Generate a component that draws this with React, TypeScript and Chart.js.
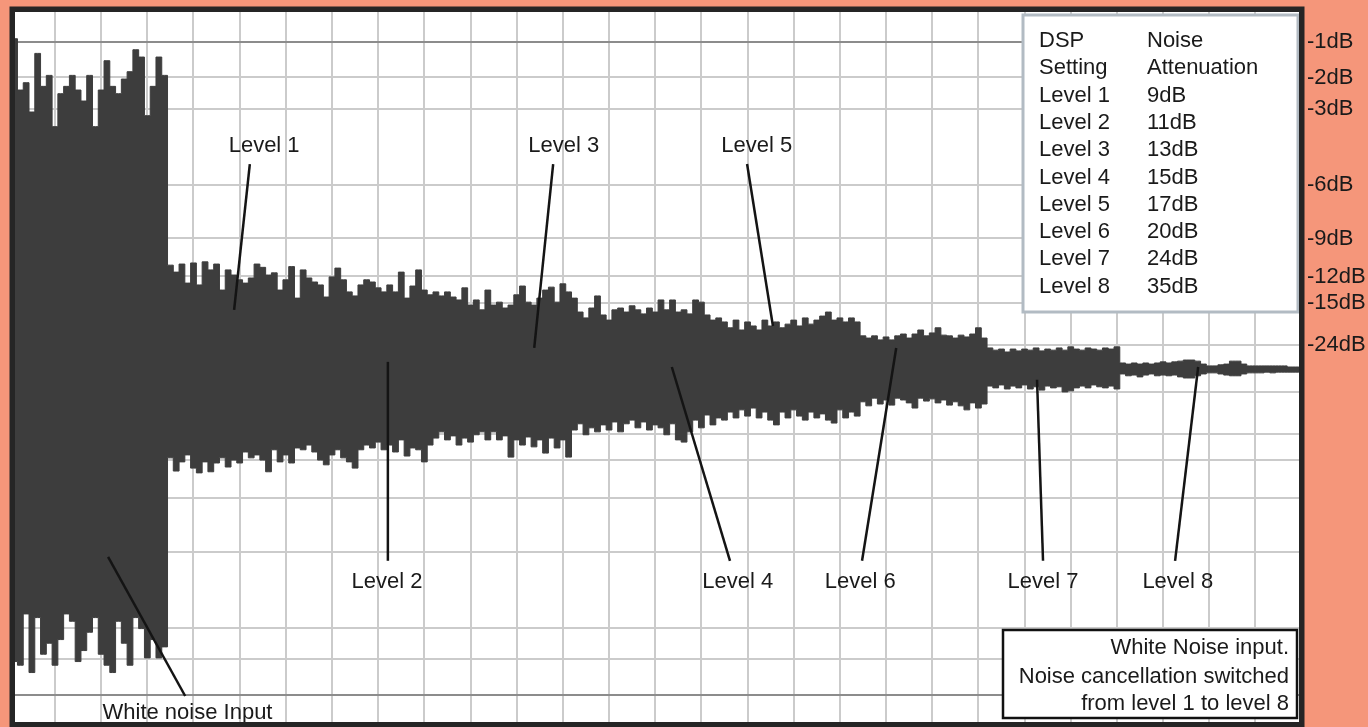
import React, { useEffect, useRef } from 'react';
import { Chart, registerables } from 'chart.js';

Chart.register(...registerables);

// ---- Waveform envelope (percent of full scale), sampled every 1/8 grid unit ----
const SAMPLE_START = -0.875;
const SAMPLE_STEP = 0.125;

const UPPER_ENVELOPE = [
  // white noise input
  90, 76, 78, 70, 86, 77, 80, 66, 75, 77, 80, 76, 73, 80, 66, 76, 84, 77, 75, 79, 81, 87, 85, 69, 77, 85, 80,
  // levels 1 - 5
  28.2, 26.3, 28.5, 23.3, 28.8, 22.8, 29.1, 26.9, 28.5, 21.4,
  26.9, 25.5, 24.2, 23.3, 24.7, 28.5, 27.6, 25.5, 26.1, 21.4,
  24.2, 27.8, 19.2, 26.9, 24.7, 23.6, 22.8, 19.5, 25.0, 27.4,
  24.2, 20.9, 19.8, 22.8, 24.2, 23.6, 22.0, 20.9, 22.8, 20.9,
  26.3, 19.2, 22.5, 26.9, 21.4, 20.1, 20.9, 19.8, 20.9, 19.5,
  18.7, 22.0, 17.3, 18.7, 16.0, 21.4, 17.3, 18.1, 16.5, 17.3,
  20.1, 22.5, 18.1, 17.3, 19.2, 21.4, 22.2, 18.1, 23.1, 20.9,
  19.2, 15.4, 13.8, 16.5, 19.8, 14.6, 13.2, 16.0, 16.5, 15.4,
  17.1, 16.0, 14.9, 16.5, 15.4, 18.7, 16.0, 18.7, 15.4, 16.0,
  14.9, 18.7, 18.1, 14.6, 13.2, 13.8, 12.7, 11.1, 13.2, 10.5,
  12.7, 11.6, 10.5, 13.2, 11.6, 12.7, 11.1, 12.1, 13.2, 11.6,
  13.8, 12.1, 13.2, 14.3, 15.4, 13.2, 13.8, 12.7, 13.8, 12.7,
  // level 6
  8.9, 8.3, 8.9, 7.8, 8.6, 7.8, 8.9, 9.4, 8.3, 9.4,
  10.5, 8.9, 9.7, 11.1, 9.1, 8.9, 8.3, 9.1, 8.6, 9.4, 11.1, 8.3,
  // level 7
  5.6, 5.0, 5.3, 4.5, 5.3, 4.8, 5.3, 5.0, 5.6, 4.8,
  5.3, 5.0, 5.6, 5.0, 5.9, 5.3, 5.0, 5.6, 5.3, 5.0, 5.6, 5.3, 5.9,
  // level 8
  1.5, 1.2, 1.5, 1.2, 1.5, 1.2, 1.5, 1.8, 1.5, 1.8,
  2.0, 2.3, 2.3, 2.0, 1.2, 0.7, 0.7, 1.0, 1.2, 2.0,
  2.0, 1.2, 0.7, 0.7, 0.7, 0.7, 0.7, 0.7, 0.7, 0.4, 0.4, 0.4,
];

const LOWER_ENVELOPE = [
  // white noise input
  -80, -81, -67, -83, -68, -78, -75, -81, -74, -67, -69, -80, -77, -72, -68, -78, -81, -83, -69, -75, -81, -68, -71, -79, -74, -79, -76,
  // levels 1 - 5
  -24.4, -28.0, -25.5, -23.6, -27.2, -28.5, -25.5, -28.2, -25.8, -24.4,
  -26.9, -25.0, -25.8, -22.8, -24.4, -23.6, -25.0, -28.2, -22.2, -25.5,
  -23.6, -25.8, -21.7, -22.2, -20.9, -22.8, -25.0, -26.3, -23.6, -22.2,
  -24.4, -25.5, -27.2, -22.2, -20.9, -21.7, -20.1, -22.2, -20.9, -22.8,
  -19.5, -23.9, -21.7, -22.2, -25.5, -20.9, -19.0, -17.3, -19.5, -18.4,
  -20.9, -19.0, -20.1, -18.1, -17.3, -19.5, -17.3, -19.5, -18.4, -24.2,
  -19.5, -20.9, -18.7, -21.4, -19.5, -23.1, -19.0, -21.7, -19.5, -24.2,
  -16.8, -15.1, -18.1, -16.2, -17.3, -15.4, -16.8, -14.6, -17.3, -15.1,
  -14.1, -16.2, -14.6, -16.8, -15.4, -16.2, -18.1, -15.1, -19.5, -20.1,
  -17.3, -14.1, -16.2, -12.7, -15.4, -13.5, -14.1, -11.9, -13.5, -11.3,
  -13.0, -10.8, -13.5, -11.9, -14.1, -15.4, -11.9, -13.5, -11.3, -13.0,
  -14.1, -11.9, -13.5, -12.4, -14.1, -14.9, -11.3, -13.5, -11.9, -13.0,
  // level 6
  -9.1, -10.2, -8.1, -9.7, -8.6, -10.0, -8.1, -8.6, -9.4, -10.8,
  -8.1, -8.9, -8.3, -9.4, -8.6, -10.0, -9.1, -10.2, -11.3, -9.4, -10.8, -9.7,
  // level 7
  -4.8, -5.3, -4.5, -5.6, -4.8, -5.3, -4.5, -5.6, -5.0, -5.9,
  -4.8, -5.3, -5.0, -6.4, -6.1, -5.3, -4.8, -5.3, -4.5, -5.0, -5.3, -4.8, -5.6,
  // level 8
  -1.5, -2.0, -1.8, -2.3, -1.8, -1.5, -2.0, -1.8, -2.0, -1.8,
  -2.3, -2.6, -2.6, -2.0, -1.5, -1.2, -1.2, -1.5, -1.8, -2.0,
  -2.0, -1.5, -1.2, -1.2, -1.2, -1.0, -1.2, -1.0, -1.0, -1.0, -1.0, -1.0,
];

// ---- Axes ----
const X_MIN = -0.866;
const X_MAX = 26.944;
const X_GRID = [0, 1, 2, 3, 4, 5, 6, 7, 8, 9, 10, 11, 12, 13, 14, 15, 16, 17, 18, 19, 20, 21, 22, 23, 24, 25, 26];
const Y_MIN = -96.5;
const Y_MAX = 97.3;
const DB_TICKS = [1, 2, 3, 6, 9, 12, 15, 24];

// ---- Table ----
const TABLE_HEAD_1 = ['DSP', 'Setting'];
const TABLE_HEAD_2 = ['Noise', 'Attenuation'];
const DSP_SETTINGS = ['Level 1', 'Level 2', 'Level 3', 'Level 4', 'Level 5', 'Level 6', 'Level 7', 'Level 8'];
const ATTENUATION = ['9dB', '11dB', '13dB', '15dB', '17dB', '20dB', '24dB', '35dB'];
const NOTE_LINES = ['White Noise input.', 'Noise cancellation switched', 'from level 1 to level 8'];

// ---- Annotations (data units) ----
const ANNOT_TEXT = ['Level 1', 'Level 2', 'Level 3', 'Level 4', 'Level 5', 'Level 6', 'Level 7', 'Level 8', 'White noise Input'];
const ANNOT_X = [4.53, 7.19, 11.02, 14.79, 15.2, 17.44, 21.4, 24.32, 2.87];
const ANNOT_Y = [60.7, -58.3, 60.7, -58.3, 60.7, -58.3, -58.3, -58.3, -93.9];
const LEADER_X0 = [4.22, 7.21, 10.79, 13.36, 14.99, 18.22, 21.27, 24.76, 1.15];
const LEADER_Y0 = [55.8, 1.8, 55.8, 0.4, 55.8, 5.6, -3.1, 0.4, -51.4];
const LEADER_X1 = [3.88, 7.21, 10.38, 14.62, 15.55, 17.48, 21.4, 24.26, 2.82];
const LEADER_Y1 = [16.0, -52.5, 5.6, -52.5, 11.6, -52.5, -52.5, -52.5, -89.4];

const FONT_FAMILY = "'Liberation Sans', Arial, Helvetica, sans-serif";
const WAVE_COLOR = '#3d3d3d';
const TEXT_COLOR = '#1a1a1a';

const dbToPercent = (db: number) => 100 * Math.pow(10, -db / 20);
const Y_TICK_VALUES = [...DB_TICKS.map(dbToPercent), ...DB_TICKS.map((d) => -dbToPercent(d))];

const decorPlugin = {
  id: 'decor',
  beforeDraw(chart: any) {
    const { ctx, chartArea: a } = chart;
    ctx.save();
    ctx.fillStyle = '#ffffff';
    ctx.fillRect(a.left, a.top, a.right - a.left, a.bottom - a.top);
    ctx.restore();
  },
  afterDatasetsDraw(chart: any) {
    const { ctx, chartArea: a } = chart;
    const xs = chart.scales.x;
    const ys = chart.scales.y;
    ctx.save();
    // leader lines
    ctx.strokeStyle = '#141414';
    ctx.lineWidth = 2.5;
    ctx.lineCap = 'butt';
    for (let i = 0; i < ANNOT_TEXT.length; i++) {
      ctx.beginPath();
      ctx.moveTo(xs.getPixelForValue(LEADER_X0[i]), ys.getPixelForValue(LEADER_Y0[i]));
      ctx.lineTo(xs.getPixelForValue(LEADER_X1[i]), ys.getPixelForValue(LEADER_Y1[i]));
      ctx.stroke();
    }
    // labels
    ctx.fillStyle = TEXT_COLOR;
    ctx.font = `22px ${FONT_FAMILY}`;
    ctx.textAlign = 'center';
    ctx.textBaseline = 'middle';
    for (let i = 0; i < ANNOT_TEXT.length; i++) {
      ctx.fillText(ANNOT_TEXT[i], xs.getPixelForValue(ANNOT_X[i]), ys.getPixelForValue(ANNOT_Y[i]));
    }

    // settings table
    const tw = 275;
    const th = 297;
    const tl = a.right - 276;
    const tt = a.top + 3;
    ctx.fillStyle = '#ffffff';
    ctx.fillRect(tl, tt, tw, th);
    ctx.strokeStyle = '#b2bbc3';
    ctx.lineWidth = 3;
    ctx.strokeRect(tl, tt, tw, th);
    ctx.fillStyle = TEXT_COLOR;
    ctx.textAlign = 'left';
    const rowH = 27.3;
    const col1 = tl + 16;
    const col2 = tl + 124;
    const row0 = tt + 26;
    const c1 = [...TABLE_HEAD_1, ...DSP_SETTINGS];
    const c2 = [...TABLE_HEAD_2, ...ATTENUATION];
    for (let r = 0; r < c1.length; r++) {
      ctx.fillText(c1[r], col1, row0 + r * rowH);
      ctx.fillText(c2[r], col2, row0 + r * rowH);
    }

    // note box
    const nw = 294;
    const nh = 88;
    const nl = a.right - 296;
    const nt = a.bottom - 92;
    ctx.fillStyle = '#ffffff';
    ctx.fillRect(nl, nt, nw, nh);
    ctx.strokeStyle = '#111111';
    ctx.lineWidth = 2.5;
    ctx.strokeRect(nl, nt, nw, nh);
    ctx.fillStyle = TEXT_COLOR;
    ctx.textAlign = 'right';
    const noteY = [18, 47, 74];
    for (let i = 0; i < NOTE_LINES.length; i++) {
      ctx.fillText(NOTE_LINES[i], nl + nw - 8, nt + noteY[i]);
    }
    ctx.restore();
  },
  afterDraw(chart: any) {
    const { ctx, chartArea: a } = chart;
    ctx.save();
    ctx.strokeStyle = '#252525';
    ctx.lineWidth = 5.5;
    ctx.strokeRect(a.left - 2.75, a.top - 2.75, a.right - a.left + 5.5, a.bottom - a.top + 5.5);
    ctx.restore();
  },
};

export default function App() {
  const canvasRef = useRef<HTMLCanvasElement | null>(null);

  useEffect(() => {
    document.body.style.margin = '0';
    document.body.style.overflow = 'hidden';
    const canvas = canvasRef.current;
    if (!canvas) return;

    const upper = UPPER_ENVELOPE.map((v, i) => ({ x: SAMPLE_START + i * SAMPLE_STEP, y: v }));
    const lower = LOWER_ENVELOPE.map((v, i) => ({ x: SAMPLE_START + i * SAMPLE_STEP, y: v }));

    const chart = new Chart(canvas, {
      type: 'line',
      data: {
        datasets: [
          {
            label: 'upper',
            data: upper,
            stepped: 'middle',
            fill: '+1',
            backgroundColor: WAVE_COLOR,
            borderColor: WAVE_COLOR,
            borderWidth: 1,
            pointRadius: 0,
          },
          {
            label: 'lower',
            data: lower,
            stepped: 'middle',
            fill: false,
            backgroundColor: WAVE_COLOR,
            borderColor: WAVE_COLOR,
            borderWidth: 1,
            pointRadius: 0,
          },
        ],
      },
      options: {
        animation: false,
        responsive: false,
        parsing: false,
        layout: { padding: { left: 15, top: 12, right: 0, bottom: 5 } },
        plugins: {
          legend: { display: false },
          tooltip: { enabled: false },
          title: { display: false },
          filler: { propagate: false },
        },
        scales: {
          x: {
            type: 'linear',
            min: X_MIN,
            max: X_MAX,
            position: 'bottom',
            afterBuildTicks: (scale: any) => {
              scale.ticks = X_GRID.map((v) => ({ value: v }));
            },
            afterFit: (scale: any) => {
              scale.height = 0;
              scale.paddingLeft = 0;
              scale.paddingRight = 0;
            },
            ticks: { display: false },
            border: { display: false },
            grid: { color: '#cbcbcb', lineWidth: 2, drawTicks: false },
          },
          y: {
            type: 'linear',
            min: Y_MIN,
            max: Y_MAX,
            position: 'right',
            afterBuildTicks: (scale: any) => {
              scale.ticks = Y_TICK_VALUES.map((v) => ({ value: v }));
            },
            afterFit: (scale: any) => {
              scale.width = 69;
              scale.paddingTop = 0;
              scale.paddingBottom = 0;
            },
            ticks: {
              autoSkip: false,
              padding: 8,
              color: TEXT_COLOR,
              font: { family: FONT_FAMILY, size: 22 },
              callback: (value: any) => {
                const v = Number(value);
                if (v <= 0) return '';
                const idx = DB_TICKS.findIndex((d) => Math.abs(dbToPercent(d) - v) < 1e-6);
                return idx >= 0 ? `-${DB_TICKS[idx]}dB` : '';
              },
            },
            border: { display: false },
            grid: {
              drawTicks: false,
              lineWidth: 2,
              color: (ctx: any) => (ctx.tick && Math.abs(ctx.tick.value) > 85 ? '#8c8c8c' : '#cbcbcb'),
            },
          },
        },
      },
      plugins: [decorPlugin],
    } as any);

    return () => {
      chart.destroy();
    };
  }, []);

  return (
    <div style={{ width: 1368, height: 727, background: '#F5967A', overflow: 'hidden' }}>
      <canvas ref={canvasRef} width={1368} height={727} style={{ display: 'block' }} />
    </div>
  );
}
